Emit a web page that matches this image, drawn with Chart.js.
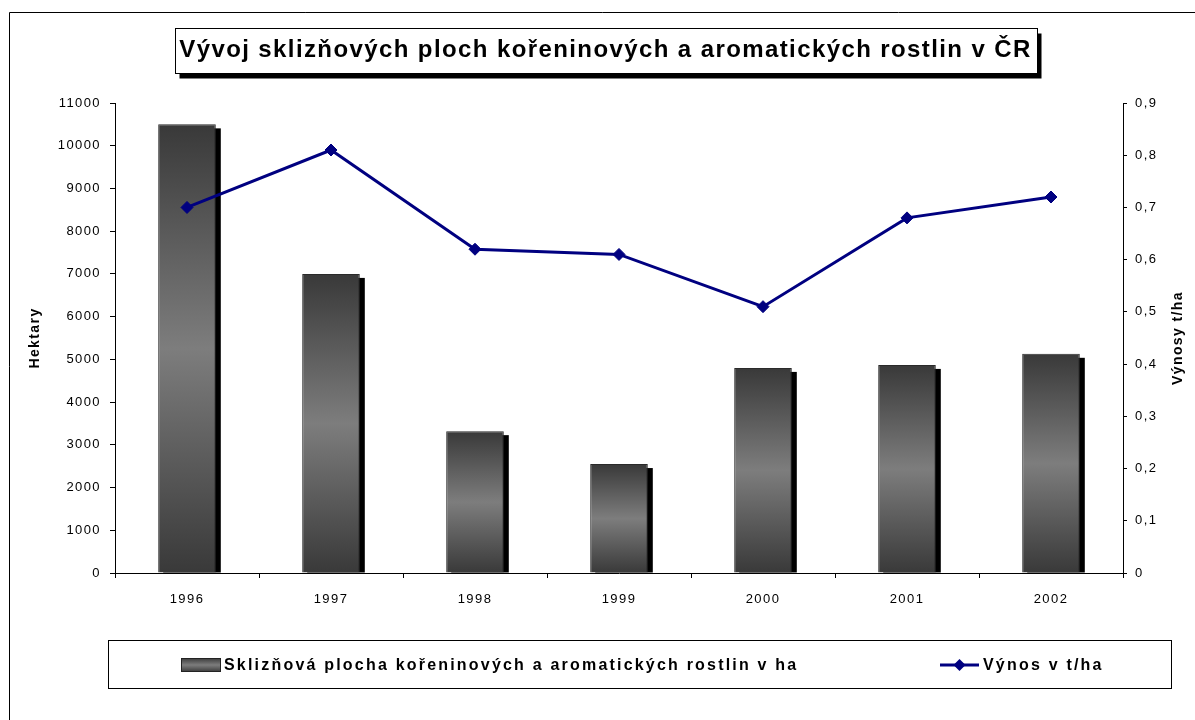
<!DOCTYPE html>
<html>
<head>
<meta charset="utf-8">
<script src="https://cdn.jsdelivr.net/npm/chart.js@4/dist/chart.umd.min.js"></script>
<style>
html,body{margin:0;padding:0;background:#fff;}
#wrap{width:1195px;height:720px;position:relative;}
</style>
</head>
<body>
<div id="wrap"><canvas id="c" width="1195" height="720"></canvas></div>
<script>
// ---- data ----
const years = ['1996', '1997', '1998', '1999', '2000', '2001', '2002'];
const areaHa = [10500, 7000, 3320, 2550, 4800, 4870, 5130];
const yieldTha = [0.70, 0.81, 0.62, 0.61, 0.51, 0.68, 0.72];
const leftTickLabels = ['0', '1000', '2000', '3000', '4000', '5000', '6000', '7000', '8000', '9000', '10000', '11000'];
const rightTickLabels = ['0', '0,1', '0,2', '0,3', '0,4', '0,5', '0,6', '0,7', '0,8', '0,9'];
const titleText = 'Vývoj sklizňových ploch kořeninových a aromatických rostlin v ČR';
const areaLabel = 'Sklizňová plocha kořeninových a aromatických rostlin v ha';
const yieldLabel = 'Výnos v t/ha';
const leftAxisTitle = 'Hektary';
const rightAxisTitle = 'Výnosy t/ha';

const FONT = '"Liberation Sans", Arial, sans-serif';
const NAVY = '#000080';
const SPACING = '1.4px';

Chart.defaults.font.family = FONT;
Chart.defaults.color = '#000';

function barGradient(c) {
  const chart = c.chart;
  if (!chart.chartArea || c.type !== 'data') return '#555';
  const ys = chart.scales.y;
  const top = ys.getPixelForValue(c.raw);
  const base = ys.getPixelForValue(0);
  const g = chart.ctx.createLinearGradient(0, top, 0, base);
  g.addColorStop(0, '#393939');
  g.addColorStop(0.5, '#7d7d7d');
  g.addColorStop(1, '#393939');
  return g;
}

const spacingPlugin = {
  id: 'spacing',
  beforeUpdate(chart) { chart.ctx.letterSpacing = SPACING; },
  beforeLayout(chart) { chart.ctx.letterSpacing = SPACING; },
  beforeDraw(chart) {
    const ctx = chart.ctx;
    ctx.letterSpacing = SPACING;
    // outer frame
    ctx.save();
    ctx.strokeStyle = '#000';
    ctx.lineWidth = 1;
    ctx.beginPath();
    ctx.moveTo(9.5, chart.height);
    ctx.lineTo(9.5, 12.5);
    ctx.lineTo(chart.width, 12.5);
    ctx.stroke();
    // title box with shadow
    const tb = chart.titleBlock;
    const tOpts = chart.options.plugins.title;
    const f = Chart.helpers.toFont(tOpts.font);
    ctx.font = f.string;
    const w = ctx.measureText(titleText).width;
    const cx = (tb.left + tb.right) / 2;
    const cy = tb.top + tOpts.padding.top + f.lineHeight / 2;
    const bx = Math.round(cx - w / 2 - 4) + 0.5;
    const bw = Math.round(w + 9);
    const by = Math.round(cy - 22) + 0.5;
    const bh = 45;
    ctx.fillStyle = '#000';
    ctx.fillRect(bx + 4, by + 5, bw, bh);
    ctx.fillStyle = '#fff';
    ctx.fillRect(bx, by, bw, bh);
    ctx.strokeStyle = '#000';
    ctx.strokeRect(bx, by, bw, bh);
    ctx.restore();
  },
  beforeDatasetsDraw(chart) {
    // bar drop shadows
    const ctx = chart.ctx;
    const meta = chart.getDatasetMeta(0);
    ctx.save();
    ctx.fillStyle = '#000';
    meta.data.forEach(el => {
      const p = el.getProps(['x', 'y', 'base', 'width'], true);
      ctx.fillRect(p.x - p.width / 2 + 5, p.y + 4, p.width, p.base - p.y - 4);
    });
    ctx.restore();
  },
  afterDraw(chart) {
    const ctx = chart.ctx;
    const ca = chart.chartArea;
    ctx.save();
    ctx.letterSpacing = SPACING;
    // right axis title (reads bottom to top)
    ctx.font = 'bold 14px ' + FONT;
    ctx.fillStyle = '#000';
    ctx.textAlign = 'center';
    ctx.textBaseline = 'middle';
    ctx.translate(1178, (ca.top + ca.bottom) / 2);
    ctx.rotate(-Math.PI / 2);
    ctx.fillText(rightAxisTitle, 0, 0);
    ctx.setTransform(1, 0, 0, 1, 0, 0);

    // legend box
    const lx = ca.left - 7, ly = ca.bottom + 67, lw = 1063, lh = 48;
    ctx.strokeStyle = '#000';
    ctx.lineWidth = 1;
    ctx.strokeRect(lx + 0.5, ly + 0.5, lw, lh);
    const my = ly + 25;
    // bar swatch
    const sx = lx + 73, sw = 40, sh = 14;
    const g = ctx.createLinearGradient(0, my - sh / 2, 0, my + sh / 2);
    g.addColorStop(0, '#393939'); g.addColorStop(0.5, '#7d7d7d'); g.addColorStop(1, '#393939');
    ctx.fillStyle = g;
    ctx.fillRect(sx, my - sh / 2, sw, sh);
    ctx.strokeStyle = '#222';
    ctx.strokeRect(sx + 0.5, my - sh / 2 + 0.5, sw - 1, sh - 1);
    ctx.letterSpacing = '2.2px';
    ctx.font = 'bold 16px ' + FONT;
    ctx.fillStyle = '#000';
    ctx.textAlign = 'left';
    ctx.textBaseline = 'middle';
    ctx.fillText(chart.data.datasets[0].label, sx + sw + 3, my + 1);
    // line swatch
    const lsx = lx + 832, lsw = 39;
    ctx.strokeStyle = NAVY;
    ctx.lineWidth = 3;
    ctx.beginPath();
    ctx.moveTo(lsx, my);
    ctx.lineTo(lsx + lsw, my);
    ctx.stroke();
    ctx.fillStyle = NAVY;
    ctx.beginPath();
    const dx = lsx + lsw / 2, r = 6;
    ctx.moveTo(dx, my - r); ctx.lineTo(dx + r, my); ctx.lineTo(dx, my + r); ctx.lineTo(dx - r, my);
    ctx.closePath();
    ctx.fill();
    ctx.fillStyle = '#000';
    ctx.fillText(chart.data.datasets[1].label, lsx + lsw + 4, my + 1);
    ctx.restore();
  }
};

new Chart(document.getElementById('c'), {
  data: {
    labels: years,
    datasets: [
      {
        type: 'bar',
        label: areaLabel,
        data: areaHa,
        yAxisID: 'y',
        backgroundColor: barGradient,
        borderColor: '#2a2a2a',
        borderWidth: 1,
        barPercentage: 0.4,
        categoryPercentage: 1.0,
        order: 2
      },
      {
        type: 'line',
        label: yieldLabel,
        data: yieldTha,
        yAxisID: 'y1',
        borderColor: NAVY,
        borderWidth: 3,
        pointStyle: 'rectRot',
        pointRadius: 6,
        pointBackgroundColor: NAVY,
        pointBorderColor: NAVY,
        pointBorderWidth: 1,
        tension: 0,
        fill: false,
        order: 1
      }
    ]
  },
  options: {
    responsive: false,
    animation: false,
    devicePixelRatio: 1,
    layout: { padding: { left: 16, right: 0, top: 0, bottom: 107 } },
    plugins: {
      legend: { display: false },
      tooltip: { enabled: false },
      title: {
        display: true,
        text: titleText,
        color: '#000',
        font: { size: 24, weight: 'bold', family: FONT },
        padding: { top: 36, bottom: 38.2 }
      }
    },
    scales: {
      x: {
        type: 'category',
        grid: { display: true, drawOnChartArea: false, tickLength: 5, color: '#000', offset: true },
        border: { color: '#000', width: 1 },
        ticks: { font: { size: 13 }, color: '#000', padding: 14, maxRotation: 0 },
        afterFit(s) { s.height = 40; }
      },
      y: {
        type: 'linear',
        position: 'left',
        min: 0,
        max: 11000,
        ticks: { stepSize: 1000, font: { size: 13 }, color: '#000', padding: 9, callback: (v, i) => leftTickLabels[i] },
        grid: { drawOnChartArea: false, tickLength: 5, color: '#000' },
        border: { color: '#000', width: 1 },
        title: { display: true, text: leftAxisTitle, font: { size: 14, weight: 'bold' }, color: '#000', padding: { top: 11, bottom: 0 } },
        afterFit(s) { s.width = 99; }
      },
      y1: {
        type: 'linear',
        position: 'right',
        min: 0,
        max: 0.9,
        ticks: {
          stepSize: 0.1,
          font: { size: 13 },
          color: '#000',
          padding: 8,
          callback: (v, i) => rightTickLabels[i]
        },
        grid: { drawOnChartArea: false, tickLength: 4, color: '#000' },
        border: { color: '#000', width: 1 },
        afterFit(s) { s.width = 72; }
      }
    }
  },
  plugins: [spacingPlugin]
});
</script>
</body>
</html>
